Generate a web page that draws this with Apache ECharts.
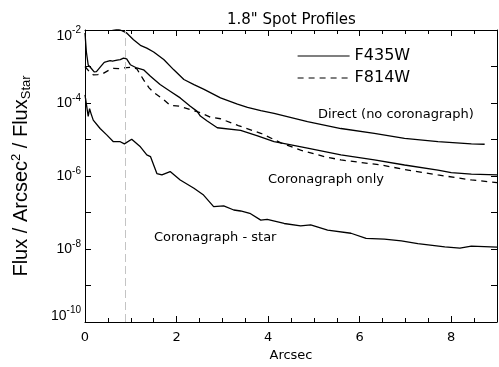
<!DOCTYPE html>
<html><head><meta charset="utf-8">
<script src="https://cdn.jsdelivr.net/npm/echarts@6/dist/echarts.min.js"></script>
<style>html,body{margin:0;padding:0;background:#fff}#c{width:499px;height:367px}</style>
</head><body><div id="c"></div>
<script>
// Direct (no coronagraph), F435W
const directX = [0, 0.3, 0.6, 0.77, 0.91, 1.06, 1.21, 1.35, 1.5, 1.72, 1.94, 2.16, 2.38, 2.59, 2.96, 3.33, 3.55, 3.84, 4.13, 4.86, 5.59, 6.32, 6.98, 7.71, 8.44, 8.73];
const directY = [3e-2, 1.6e-2, 1.1e-2, 1.0e-2, 8.3e-3, 5.4e-3, 3.8e-3, 3.2e-3, 2.5e-3, 1.55e-3, 8.1e-4, 4.4e-4, 3.2e-4, 2.4e-4, 1.38e-4, 9.3e-5, 7.6e-5, 6.2e-5, 5.2e-5, 3.1e-5, 2.0e-5, 1.48e-5, 1.07e-5, 8.7e-6, 7.6e-6, 7.4e-6];
// Coronagraph only, F435W
const coroBlueX = [0, 0.03, 0.07, 0.13, 0.2, 0.25, 0.35, 0.42, 0.47, 0.55, 0.6, 0.7, 0.77, 0.84, 0.91, 0.99, 1.13, 1.28, 1.43, 1.64, 1.86, 2.08, 2.3, 2.45, 2.52, 2.67, 2.89, 3.4, 3.77, 4.13, 4.5, 4.86, 5.59, 6.32, 6.98, 7.71, 8.0, 8.44, 9.0];
const coroBlueY = [8.3e-3, 2.5e-3, 1.1e-3, 9.1e-4, 7.1e-4, 7.2e-4, 1.02e-3, 1.3e-3, 1.35e-3, 1.45e-3, 1.41e-3, 1.5e-3, 1.55e-3, 1.7e-3, 1.62e-3, 1.12e-3, 9.1e-4, 8.1e-4, 5.4e-4, 3.2e-4, 2.1e-4, 1.38e-4, 8.1e-5, 5.9e-5, 4.4e-5, 3.2e-5, 2.1e-5, 1.78e-5, 1.26e-5, 8.7e-6, 7.1e-6, 5.8e-6, 3.8e-6, 2.75e-6, 2.0e-6, 1.45e-6, 1.23e-6, 1.12e-6, 1.07e-6];
// Coronagraph only, F814W
const coroRedX = [0, 0.08, 0.18, 0.28, 0.4, 0.52, 0.62, 0.75, 0.84, 0.99, 1.13, 1.28, 1.4, 1.5, 1.72, 1.86, 2.08, 2.3, 2.52, 2.74, 2.96, 3.35, 3.84, 4.28, 4.71, 5.23, 5.59, 5.96, 6.47, 6.98, 7.71, 8.44, 9.0];
const coroRedY = [1.0e-3, 7.6e-4, 5.9e-4, 6.0e-4, 6.5e-4, 7.9e-4, 8.9e-4, 8.7e-4, 9.1e-4, 9.5e-4, 8.7e-4, 4.3e-4, 2.6e-4, 1.95e-4, 1.23e-4, 8.7e-5, 8.1e-5, 6.6e-5, 5.4e-5, 4.1e-5, 3.7e-5, 2.4e-5, 1.48e-5, 8.1e-6, 5.1e-6, 3.4e-6, 2.75e-6, 2.4e-6, 2.0e-6, 1.51e-6, 1.07e-6, 7.8e-7, 6.6e-7];
// Coronagraph - star, F435W
const starX = [0, 0.04, 0.07, 0.1, 0.13, 0.18, 0.33, 0.48, 0.62, 0.77, 0.86, 1.02, 1.21, 1.35, 1.43, 1.57, 1.68, 1.86, 2.08, 2.38, 2.59, 2.81, 3.03, 3.25, 3.4, 3.6, 3.84, 3.98, 4.35, 4.71, 4.93, 5.3, 5.81, 6.14, 6.54, 6.91, 7.27, 7.86, 8.19, 8.44, 9.0];
const starY = [1.66e-4, 1.48e-4, 4.3e-5, 7.0e-5, 5.2e-5, 3.4e-5, 2.0e-5, 1.32e-5, 8.7e-6, 8.7e-6, 7.6e-6, 1.02e-5, 6.3e-6, 3.8e-6, 3.4e-6, 1.17e-6, 1.07e-6, 1.32e-6, 7.8e-7, 4.6e-7, 3.0e-7, 1.45e-7, 1.51e-7, 1.17e-7, 1.1e-7, 9.5e-8, 6.2e-8, 6.5e-8, 5.0e-8, 4.3e-8, 4.6e-8, 3.3e-8, 2.7e-8, 1.95e-8, 1.86e-8, 1.66e-8, 1.41e-8, 1.15e-8, 1.05e-8, 1.2e-8, 1.12e-8];
// Spot radius marker
const markerX = [0.88];
const seriesNames = ['F435W', 'F814W'];
const annotations = ['Direct (no coronagraph)', 'Coronagraph only', 'Coronagraph - star'];

const FONT = 'Liberation Sans, Arial, Helvetica, sans-serif';
const WIDE = 'DejaVu Sans, Verdana, sans-serif';
const zip = (xs, ys) => xs.map((x, i) => [x, ys[i]]);

const chart = echarts.init(document.getElementById('c'), null, {renderer: 'canvas'});

function yLabel(v) {
  const e = Math.round(Math.log10(v));
  if (e % 2 !== 0) return '';
  if (e === -2) return '{bt|10}{st|' + e + '}';
  if (e === -10) return '{bb|10}{sb|' + e + '}';
  return '{b|10}{s|' + e + '}';
}

const xCommon = {type: 'value', min: 0, max: 9, splitLine: {show: false}};
const lineBase = {type: 'line', showSymbol: false, symbol: 'none', xAxisIndex: 0, yAxisIndex: 0};

chart.setOption({
  animation: false,
  backgroundColor: '#fff',
  title: {
    text: '1.8" Spot Profiles', left: 222, top: 8,
    textStyle: {fontFamily: WIDE, fontSize: 15, fontWeight: 'normal', color: '#000'}
  },
  legend: {
    orient: 'vertical', left: 292, top: 43, itemWidth: 52, itemHeight: 14, itemGap: 6,
    data: seriesNames,
    itemStyle: {opacity: 0},
    lineStyle: {width: 1.2},
    textStyle: {fontFamily: WIDE, fontSize: 16, color: '#000'}
  },
  grid: {left: 85, right: 2, top: 30, bottom: 45, outerBoundsMode: 'none', containLabel: false},
  xAxis: [
    Object.assign({}, xCommon, {position: 'bottom', interval: 2,
      axisLine: {show: true, onZero: false, lineStyle: {color: '#000', width: 1}},
      axisTick: {show: true, inside: true, length: 6, lineStyle: {color: '#000'}},
      axisLabel: {show: true, showMaxLabel: false, margin: 9, fontFamily: WIDE, fontSize: 13, color: '#000'},
      name: 'Arcsec', nameLocation: 'middle', nameGap: 23,
      nameTextStyle: {fontFamily: WIDE, fontSize: 13, color: '#000'}}),
    Object.assign({}, xCommon, {position: 'bottom', interval: 0.5,
      axisLine: {show: false, onZero: false},
      axisTick: {show: true, inside: true, length: 4, lineStyle: {color: '#000'}},
      axisLabel: {show: false}}),
    Object.assign({}, xCommon, {position: 'top', interval: 2,
      axisLine: {show: true, onZero: false, lineStyle: {color: '#000', width: 1}},
      axisTick: {show: true, inside: true, length: 6, lineStyle: {color: '#000'}},
      axisLabel: {show: false}}),
    Object.assign({}, xCommon, {position: 'top', interval: 0.5,
      axisLine: {show: false, onZero: false},
      axisTick: {show: true, inside: true, length: 4, lineStyle: {color: '#000'}},
      axisLabel: {show: false}})
  ],
  yAxis: [
    {type: 'log', logBase: 10, min: 1e-10, max: 1e-2, splitNumber: 8, position: 'left',
      splitLine: {show: false},
      axisLine: {show: true, onZero: false, lineStyle: {color: '#000', width: 1}},
      axisTick: {show: true, inside: true, length: 6, lineStyle: {color: '#000'}},
      axisLabel: {show: true, margin: 4, formatter: yLabel, color: '#000', fontFamily: FONT,
        rich: {
          b: {fontFamily: FONT, fontSize: 14, color: '#000', verticalAlign: 'middle'},
          s: {fontFamily: FONT, fontSize: 10, color: '#000', padding: [0, 0, 10, 0], verticalAlign: 'middle'},
          bt: {fontFamily: FONT, fontSize: 14, color: '#000', padding: [13, 0, 0, 0], verticalAlign: 'middle'},
          st: {fontFamily: FONT, fontSize: 10, color: '#000', verticalAlign: 'middle'},
          bb: {fontFamily: FONT, fontSize: 14, color: '#000', padding: [0, 0, 11, 0], verticalAlign: 'middle'},
          sb: {fontFamily: FONT, fontSize: 10, color: '#000', padding: [0, 0, 23, 0], verticalAlign: 'middle'}
        }},
      name: 'Flux / Arcsec{sup|2} / Flux{sub|Star}', nameLocation: 'middle', nameGap: 52,
      nameTextStyle: {fontFamily: FONT, fontSize: 20, color: '#000',
        rich: {
          sup: {fontFamily: FONT, fontSize: 13, color: '#000', padding: [0, 0, 10, 0]},
          sub: {fontFamily: FONT, fontSize: 13, color: '#000', padding: [10, 0, 0, 0]}
        }}},
    {type: 'log', logBase: 10, min: 1e-10, max: 1e-2, splitNumber: 8, position: 'right',
      splitLine: {show: false},
      axisLine: {show: true, onZero: false, lineStyle: {color: '#000', width: 1}},
      axisTick: {show: true, inside: true, length: 6, lineStyle: {color: '#000'}},
      axisLabel: {show: false}}
  ],
  series: [
    Object.assign({}, lineBase, {name: seriesNames[0], data: zip(directX, directY),
      lineStyle: {color: '#000', width: 1.3, type: 'solid'}, itemStyle: {color: '#000'},
      markLine: {silent: true, symbol: ['none', 'none'], label: {show: false},
        lineStyle: {color: '#c4c4c4', width: 1, type: [8, 4]},
        data: markerX.map(v => ({xAxis: v}))}}),
    Object.assign({}, lineBase, {name: seriesNames[0], data: zip(coroBlueX, coroBlueY),
      lineStyle: {color: '#000', width: 1.3, type: 'solid'}, itemStyle: {color: '#000'}}),
    Object.assign({}, lineBase, {name: seriesNames[1], data: zip(coroRedX, coroRedY),
      lineStyle: {color: '#000', width: 1.3, type: [6, 5]}, itemStyle: {color: '#000'}}),
    Object.assign({}, lineBase, {name: seriesNames[0], data: zip(starX, starY),
      lineStyle: {color: '#000', width: 1.3, type: 'solid'}, itemStyle: {color: '#000'}})
  ],
  graphic: [
    {type: 'text', x: 318, y: 115, style: {text: annotations[0], font: '13px ' + WIDE, fill: '#000', verticalAlign: 'middle'}},
    {type: 'text', x: 268, y: 180, style: {text: annotations[1], font: '13px ' + WIDE, fill: '#000', verticalAlign: 'middle'}},
    {type: 'text', x: 154, y: 238, style: {text: annotations[2], font: '13px ' + WIDE, fill: '#000', verticalAlign: 'middle'}}
  ]
});
</script></body></html>
